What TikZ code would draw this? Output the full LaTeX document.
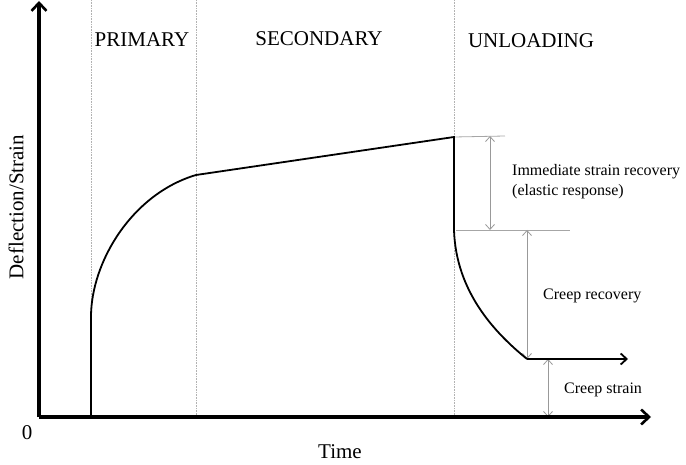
\documentclass[tikz,border=0pt]{standalone}
\usepackage{fontspec}
\setmainfont{Liberation Serif}
\usetikzlibrary{arrows.meta}
\begin{document}
\begin{tikzpicture}[x=1pt,y=-1pt,
  axis/.style={line width=3.6pt,-{Straight Barb[length=8pt,width=15pt,line width=2.6pt]}},
  guide/.style={gray!60,line width=0.6pt,densely dotted},
  dimline/.style={gray!70,line width=0.8pt},
  dimarrow/.style={gray!80,line width=0.8pt,{Straight Barb[length=5pt,width=9pt]}-{Straight Barb[length=5pt,width=9pt]}},
  curve/.style={line width=1.8pt},
  head/.style={font=\fontsize{21}{24}\selectfont,inner sep=0pt},
  lab/.style={font=\fontsize{16}{20}\selectfont,anchor=west,align=left,inner sep=0pt},
  big/.style={font=\fontsize{21}{24}\selectfont,inner sep=0pt}]
\useasboundingbox (0,0) rectangle (686,465);
% coordinates
\coordinate (O) at (39,417);
\coordinate (ytip) at (39,1);
\coordinate (xtip) at (651,417);
\coordinate (g1t) at (91,0);   \coordinate (g1b) at (91,417);
\coordinate (g2t) at (196,0);  \coordinate (g2b) at (196,417);
\coordinate (g3t) at (454,0);  \coordinate (g3b) at (454,417);
\coordinate (c0) at (91,417);
\coordinate (c1) at (91,317);
\coordinate (c2) at (196,175);
\coordinate (c3) at (454,137);
\coordinate (c4) at (454,230);
\coordinate (c5) at (527,359);
\coordinate (c6) at (628,359);
\coordinate (h1e) at (505,136);
\coordinate (h2s) at (456,230);
\coordinate (h2e) at (570,230);
\coordinate (a1t) at (490,136);
\coordinate (a1b) at (490,230);
\coordinate (a2t) at (527,230);
\coordinate (a2b) at (527,359);
\coordinate (a3t) at (548,359);
\coordinate (a3b) at (548,417);
% guides
\draw[guide] (g1t) -- (g1b);
\draw[guide] (g2t) -- (g2b);
\draw[guide] (g3t) -- (g3b);
% dimension lines
\draw[dimline] (c3) -- (h1e);
\draw[dimline] (h2s) -- (h2e);
\draw[dimarrow] (a1t) -- (a1b);
\draw[dimarrow] (a2t) -- (a2b);
\draw[dimarrow] (a3t) -- (a3b);
% curve
\draw[curve] (c0) -- (c1) .. controls (91,262) and (132,194) .. (c2) -- (c3) -- (c4)
  .. controls (456,292) and (495,333) .. (c5);
\draw[curve,-{Straight Barb[length=6pt,width=11pt]}] (c5) -- (c6);
% axes
\draw[axis] (O) -- (ytip);
\draw[axis] (O) -- (xtip);
% labels
\node[head] (tprim) at (142,40) {PRIMARY};
\node[head] (tsec) at (319,39) {SECONDARY};
\node[head] (tunl) at (531,41) {UNLOADING};
\node[lab] (limm) at (512,182) {Immediate strain recovery\\(elastic response)};
\node[lab] (lcr) at (543,296) {Creep recovery};
\node[lab] (lcs) at (564,390) {Creep strain};
\node[big] (lzero) at (27,433) {0};
\node[big] (ltime) at (340,452) {Time};
\node[big,rotate=90] (ly) at (16,207) {Deflection/Strain};
\end{tikzpicture}
\end{document}
